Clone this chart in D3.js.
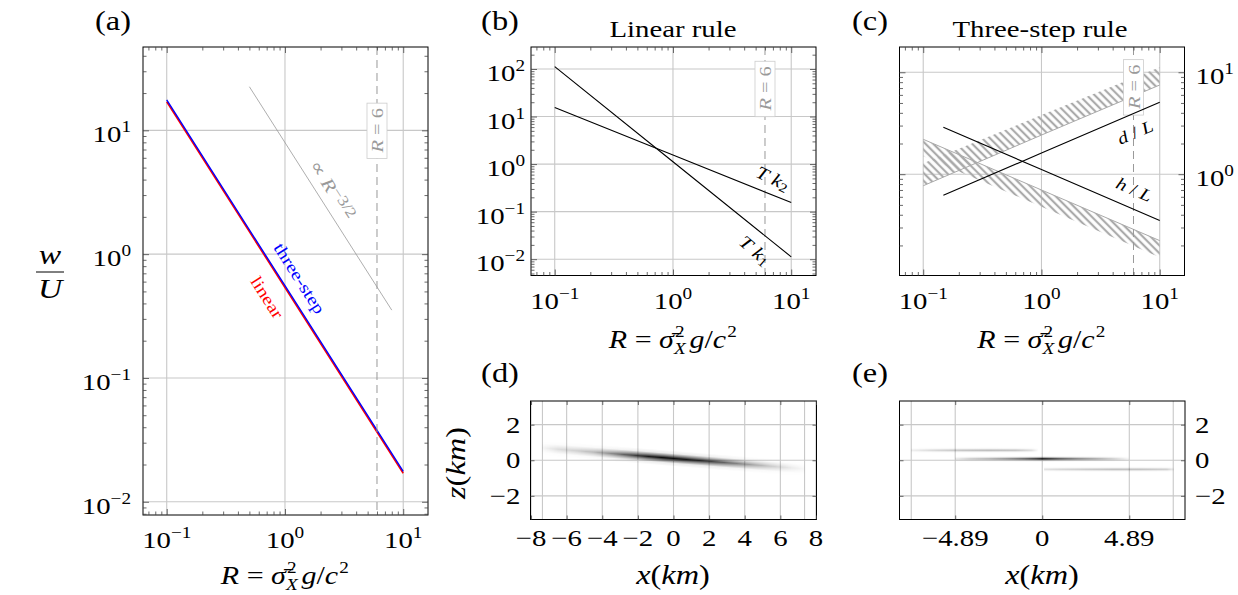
<!DOCTYPE html>
<html><head><meta charset="utf-8">
<script src="https://cdn.jsdelivr.net/npm/d3@7"></script>
<style>
body{margin:0;background:#fff;}
</style></head><body>
<script>
// ---------------- data ----------------
// (a) vertical velocity w/U vs R
const rA = [0.1, 1, 10];
const wLinear = [17.0, 0.537, 0.0170];
const wThreeStep = [17.6, 0.556, 0.0176];
const rRef = [0.5, 8];
const wRef = [22.5, 0.353];
// (b) linear rule
const rB = [0.1, 1, 10];
const tk1 = [112, 1.12, 0.0112];
const tk2 = [15.5, 1.55, 0.155];
// (c) three-step rule
const rC = [0.1, 1, 10];
const bandUpperLo = [0.77, 2.42, 7.5];
const bandUpperHi = [1.28, 3.8, 11.2];
const bandLowerHi = [2.2, 0.70, 0.223];
const bandLowerLo = [1.5, 0.48, 0.153];
const rLine = [0.148, 1, 10];
const dOverL = [0.62, 1.61, 5.08];
const hOverL = [2.89, 1.11, 0.351];
const rMark = 6;
// tick values / labels
const logXTicks = [0.1, 1, 10];
const logXLabels = ["\u22121", "0", "1"];
const aYTicks = [0.01, 0.1, 1, 10];
const aYLabels = ["\u22122", "\u22121", "0", "1"];
const bYTicks = [0.01, 0.1, 1, 10, 100];
const bYLabels = ["\u22122", "\u22121", "0", "1", "2"];
const cYTicks = [1, 10];
const cYLabels = ["0", "1"];
const dXTicks = [-8, -6, -4, -2, 0, 2, 4, 6, 8];
const dXLabels = ["\u22128", "\u22126", "\u22124", "\u22122", "0", "2", "4", "6", "8"];
const eXTicks = [-4.89, 0, 4.89];
const eXLabels = ["\u22124.89", "0", "4.89"];
const zTicks = [-2, 0, 2];
const zLabels = ["\u22122", "0", "2"];
const edgeGrid = [-7.36, 7.36];
// (d) streak: intensity along x, centre z at the two ends
const dStreakX = [-7.4, -6.5, -5.5, -4.5, -3.5, -2.5, -1.5, -0.5, 0.5, 1.5, 2.5, 3.5, 4.5, 5.5, 6.5, 7.4];
const dStreakI = [0.03, 0.13, 0.18, 0.27, 0.45, 0.68, 0.88, 0.97, 0.93, 0.83, 0.68, 0.5, 0.34, 0.2, 0.09, 0.02];
const dStreakZ = [0.69, -0.49];
// (e) three streaks
const e1X = [-7.4, -6, -4.5, -3, -1.5, -0.6, -0.2];
const e1I = [0.06, 0.17, 0.25, 0.28, 0.25, 0.14, 0.0];
const e1Z = [0.56, 0.56];
const e2X = [-4.9, -4, -3, -2, -1, -0.3, 0, 0.3, 1, 2, 3, 4, 4.9];
const e2I = [0.08, 0.22, 0.32, 0.47, 0.67, 0.87, 1.0, 0.92, 0.72, 0.52, 0.37, 0.2, 0.03];
const e2Z = [0.08, 0.08];
const e3X = [0.1, 1, 2.5, 4, 5.5, 7, 7.4];
const e3I = [0.12, 0.17, 0.22, 0.26, 0.25, 0.2, 0.06];
const e3Z = [-0.51, -0.51];
// label anchor points (data coords)
const labelThreeStepAt = [1.34, 0.641];
const labelLinearAt = [0.711, 0.45];
const labelRefAt = [2.52, 3.29];
const labelTk2At = [7.0, 0.507];
const labelTk1At = [4.94, 0.0155];
const labelDLAt = [6.17, 2.6];
const labelHLAt = [6.1, 0.716];
const markLabelA = 10, markLabelB = 39, markLabelC = 7.2;

// ---------------- setup ----------------
const SX = 1.2;
const FONT = "Liberation Serif";
const svg = d3.select("body").append("svg").attr("width", 1238).attr("height", 595)
  .attr("font-family", FONT).style("font-family", "'Liberation Serif', 'DejaVu Serif', serif");
const defs = svg.append("defs");

const PA = {x0:143, x1:428, y0:47, y1:515};
const PB = {x0:531, x1:816, y0:47, y1:275.5};
const PC = {x0:899.5, x1:1184.5, y0:47, y1:275.5};
const PD = {x0:530.5, x1:816.5, y0:401, y1:519.5};
const PE = {x0:899.5, x1:1185, y0:401, y1:519.5};

const rDomain = [0.063, 16.2];
const xA = d3.scaleLog().domain(rDomain).range([PA.x0, PA.x1]);
const yA = d3.scaleLog().domain([0.00782, 47.1]).range([PA.y1, PA.y0]);
const xB = d3.scaleLog().domain(rDomain).range([PB.x0, PB.x1]);
const yB = d3.scaleLog().domain([0.00454, 290]).range([PB.y1, PB.y0]);
const xC = d3.scaleLog().domain(rDomain).range([PC.x0, PC.x1]);
const yC = d3.scaleLog().domain([0.1014, 17.7]).range([PC.y1, PC.y0]);
const xD = d3.scaleLinear().domain([-8.03, 8.03]).range([PD.x0, PD.x1]);
const yD = d3.scaleLinear().domain([-3.33, 3.33]).range([PD.y1, PD.y0]);
const xE = d3.scaleLinear().domain([-8.02, 8.02]).range([PE.x0, PE.x1]);
const yE = d3.scaleLinear().domain([-3.33, 3.33]).range([PE.y1, PE.y0]);

// ---------------- helpers ----------------
function label(g, x, y, parts, o = {}) {
  const t = g.append("text")
    .attr("transform", `translate(${x},${y}) rotate(${o.rot || 0}) scale(${SX},1)`)
    .attr("text-anchor", o.anchor || "middle")
    .attr("font-family", FONT)
    .attr("font-size", o.size || 22)
    .attr("fill", o.color || "#000");
  if (o.mid) t.attr("dominant-baseline", "central");
  parts.forEach(p => {
    const s = t.append("tspan").text(p.t);
    if (p.i) s.attr("font-style", "italic");
    if (p.dy !== undefined) s.attr("dy", p.dy);
    if (p.dx !== undefined) s.attr("dx", p.dx);
    if (p.s) s.attr("font-size", p.s);
  });
  return t;
}
function pow(exp) { return [{t: "10"}, {t: exp, s: 16, dy: -10}]; }

function grid(g, P, xs, ys, xv, yv, col) {
  g.append("g").selectAll("line").data(xv).join("line")
    .attr("x1", d => xs(d)).attr("x2", d => xs(d)).attr("y1", P.y0).attr("y2", P.y1)
    .attr("stroke", col || "#c8c8c8").attr("stroke-width", 1.1);
  g.append("g").selectAll("line").data(yv).join("line")
    .attr("y1", d => ys(d)).attr("y2", d => ys(d)).attr("x1", P.x0).attr("x2", P.x1)
    .attr("stroke", col || "#c8c8c8").attr("stroke-width", 1.1);
}
function tickSet(g, P, xs, ys, xv, yv, size) {
  const mk = (axis, tr) => {
    const s = g.append("g").attr("transform", tr).call(axis);
    s.select(".domain").remove();
    s.selectAll("line").attr("stroke", "#444").attr("stroke-width", 0.8);
    s.selectAll("text").remove();
  };
  mk(d3.axisBottom(xs).tickValues(xv).tickSize(-size).tickFormat(""), `translate(0,${P.y1})`);
  mk(d3.axisTop(xs).tickValues(xv).tickSize(-size).tickFormat(""), `translate(0,${P.y0})`);
  mk(d3.axisLeft(ys).tickValues(yv).tickSize(-size).tickFormat(""), `translate(${P.x0},0)`);
  mk(d3.axisRight(ys).tickValues(yv).tickSize(-size).tickFormat(""), `translate(${P.x1},0)`);
}
function minorLog(s) {
  const [a, b] = s.domain();
  return s.ticks().filter(v => v > a && v < b && Math.abs(Math.log10(v) - Math.round(Math.log10(v))) > 1e-6);
}
function frame(g, P) {
  g.append("rect").attr("x", P.x0).attr("y", P.y0).attr("width", P.x1 - P.x0).attr("height", P.y1 - P.y0)
    .attr("fill", "none").attr("stroke", "#000").attr("stroke-width", 1);
}
function markLine(g, P, xs, ys, labelVal) {
  g.append("line").attr("x1", xs(rMark)).attr("x2", xs(rMark)).attr("y1", P.y0).attr("y2", P.y1)
    .attr("stroke", "#999").attr("stroke-width", 1).attr("stroke-dasharray", "8,5");
  const gg = g.append("g").attr("transform", `translate(${xs(rMark)},${ys(labelVal)}) rotate(-90)`);
  const r = gg.append("rect");
  const t = gg.append("text").attr("text-anchor", "middle").attr("dominant-baseline", "central")
    .attr("font-family", FONT)
    .attr("transform", `scale(${SX},1)`).attr("font-size", 17).attr("fill", "#9a9a9a");
  t.append("tspan").attr("font-style", "italic").text("R");
  t.append("tspan").text(" = 6");
  const bb = t.node().getBBox();
  r.attr("x", bb.x * SX - 5).attr("y", bb.y - 0.5).attr("width", bb.width * SX + 10).attr("height", bb.height + 1)
    .attr("fill", "#fff").attr("stroke", "#ccc").attr("stroke-width", 0.8);
}
function lineOf(xs, ys) { return d3.line().x(d => xs(d[0])).y(d => ys(d[1])); }
function angleOf(xs, ys, rr, vv) {
  const n = rr.length - 1;
  return Math.atan2(ys(vv[n]) - ys(vv[0]), xs(rr[n]) - xs(rr[0])) * 180 / Math.PI;
}
// x-axis title R = sigma_X^2 g / c^2 (super/subscript as separate texts so they do not overlap)
function rTitle(g, cx, y) {
  const size = 25;
  const t = g.append("g").attr("transform", `translate(${cx},${y}) scale(${SX},1)`);
  const part = (x, dy, txt, it, sz) => t.append("text").attr("x", x).attr("y", dy)
    .attr("font-family", FONT).attr("font-size", sz || size).attr("font-style", it ? "italic" : "normal").text(txt);
  const a = part(0, 0, "R = \u03c3\u0304", 0);
  a.text(null);
  a.append("tspan").attr("font-style", "italic").text("R");
  a.append("tspan").text(" = ");
  a.append("tspan").attr("font-style", "italic").text("\u03c3\u0304");
  const w1 = a.node().getComputedTextLength();
  part(w1 + 1, -11, "2", 0, 16);
  part(w1 + 0, 6, "X", 1, 16);
  const b = part(w1 + 13, 0, "", 0);
  b.append("tspan").attr("font-style", "italic").text("g");
  b.append("tspan").text("/");
  b.append("tspan").attr("font-style", "italic").text("c");
  const w2 = b.node().getComputedTextLength();
  part(w1 + 13 + w2 + 1, -11, "2", 0, 16);
  const total = w1 + 13 + w2 + 10;
  t.selectAll("text").attr("x", function () { return +d3.select(this).attr("x") - total / 2; });
}

// vertical profile mask for streaks
const vprof = defs.append("linearGradient").attr("id", "vprof").attr("x1", 0).attr("y1", 0).attr("x2", 0).attr("y2", 1);
[[0, 0], [0.2, 0.08], [0.35, 0.5], [0.5, 1], [0.65, 0.5], [0.8, 0.08], [1, 0]].forEach(s =>
  vprof.append("stop").attr("offset", s[0]).attr("stop-color", "#fff").attr("stop-opacity", s[1]));
defs.append("mask").attr("id", "vmask").attr("maskContentUnits", "objectBoundingBox")
  .attr("maskUnits", "objectBoundingBox").attr("x", 0).attr("y", 0).attr("width", 1).attr("height", 1)
  .append("rect").attr("width", 1).attr("height", 1).attr("fill", "url(#vprof)");

function streak(g, xs, ys, xv, iv, zz, h, id) {
  const x0 = xv[0], x1 = xv[xv.length - 1];
  const grad = defs.append("linearGradient").attr("id", id).attr("x1", 0).attr("x2", 1).attr("y1", 0).attr("y2", 0);
  grad.selectAll("stop").data(xv.map((x, i) => ({x, v: iv[i]}))).join("stop")
    .attr("offset", d => (d.x - x0) / (x1 - x0)).attr("stop-color", "#000").attr("stop-opacity", d => d.v);
  const px0 = xs(x0), px1 = xs(x1);
  const ang = Math.atan((ys(zz[1]) - ys(zz[0])) / (px1 - px0)) * 180 / Math.PI;
  g.append("rect").attr("x", px0).attr("y", ys(zz[0] + h)).attr("width", px1 - px0)
    .attr("height", ys(zz[0] - h) - ys(zz[0] + h))
    .attr("fill", `url(#${id})`).attr("mask", "url(#vmask)")
    .attr("transform", `translate(${px0},0) skewY(${ang}) translate(${-px0},0)`);
}

// hatch pattern
const pat = defs.append("pattern").attr("id", "hatch").attr("patternUnits", "userSpaceOnUse")
  .attr("width", 5.5).attr("height", 5.5).attr("patternTransform", "rotate(-45)");
pat.append("line").attr("x1", 2.75).attr("x2", 2.75).attr("y1", -1).attr("y2", 7)
  .attr("stroke", "#aaaaaa").attr("stroke-width", 2.2);

// ---------------- panel (a) ----------------
{
  const g = svg.append("g");
  grid(g, PA, xA, yA, logXTicks, aYTicks);
  g.append("path").datum(rRef.map((r, i) => [r, wRef[i]])).attr("d", lineOf(xA, yA))
    .attr("fill", "none").attr("stroke", "#999").attr("stroke-width", 0.8);
  g.append("path").datum(rA.map((r, i) => [r, wLinear[i]])).attr("d", lineOf(xA, yA))
    .attr("fill", "none").attr("stroke", "#ff0000").attr("stroke-width", 1.6);
  g.append("path").datum(rA.map((r, i) => [r, wThreeStep[i]])).attr("d", lineOf(xA, yA))
    .attr("fill", "none").attr("stroke", "#0000ff").attr("stroke-width", 1.4);
  markLine(g, PA, xA, yA, markLabelA);
  const ang = angleOf(xA, yA, rA, wLinear);
  label(g, xA(labelThreeStepAt[0]), yA(labelThreeStepAt[1]), [{t: "three-step"}], {rot: ang, size: 17, color: "#0000ff", mid: 1});
  label(g, xA(labelLinearAt[0]), yA(labelLinearAt[1]), [{t: "linear"}], {rot: ang, size: 17, color: "#ff0000", mid: 1});
  label(g, xA(labelRefAt[0]), yA(labelRefAt[1]), [{t: "\u221d "}, {t: "R", i: 1}, {t: "\u22123/2", s: 15, dy: -4}],
    {rot: angleOf(xA, yA, rRef, wRef), size: 18, color: "#999", mid: 1});
  frame(g, PA);
  tickSet(g, PA, xA, yA, logXTicks, aYTicks, 6);
  tickSet(g, PA, xA, yA, minorLog(xA), minorLog(yA), 3.5);
  logXTicks.forEach((v, i) => label(g, xA(v), PA.y1 + 33, pow(logXLabels[i]), {size: 24}));
  aYTicks.forEach((v, i) => label(g, PA.x0 - 12, yA(v) + 12, pow(aYLabels[i]), {size: 24, anchor: "end"}));
  rTitle(g, (PA.x0 + PA.x1) / 2, 584);
  label(g, 113, 30, [{t: "(a)"}], {size: 27});
  // w/U
  label(g, 50, 264, [{t: "w", i: 1}], {size: 28});
  g.append("line").attr("x1", 36).attr("x2", 64).attr("y1", 272).attr("y2", 272).attr("stroke", "#000").attr("stroke-width", 1);
  label(g, 50, 298, [{t: "U", i: 1}], {size: 28});
}

// ---------------- panel (b) ----------------
{
  const g = svg.append("g");
  grid(g, PB, xB, yB, logXTicks, bYTicks);
  markLine(g, PB, xB, yB, markLabelB);
  g.append("path").datum(rB.map((r, i) => [r, tk1[i]])).attr("d", lineOf(xB, yB))
    .attr("fill", "none").attr("stroke", "#000").attr("stroke-width", 1.1);
  g.append("path").datum(rB.map((r, i) => [r, tk2[i]])).attr("d", lineOf(xB, yB))
    .attr("fill", "none").attr("stroke", "#000").attr("stroke-width", 1.1);
  label(g, xB(labelTk2At[0]), yB(labelTk2At[1]), [{t: "T", i: 1}, {t: " k", i: 1}, {t: "2", s: 13, dy: 4}],
    {rot: angleOf(xB, yB, rB, tk2) + 4, size: 18, mid: 1});
  label(g, xB(labelTk1At[0]), yB(labelTk1At[1]), [{t: "T", i: 1}, {t: " k", i: 1}, {t: "1", s: 13, dy: 4}],
    {rot: angleOf(xB, yB, rB, tk1) + 2, size: 18, mid: 1});
  frame(g, PB);
  tickSet(g, PB, xB, yB, logXTicks, bYTicks, 6);
  tickSet(g, PB, xB, yB, minorLog(xB), minorLog(yB), 3.5);
  logXTicks.forEach((v, i) => label(g, xB(v), PB.y1 + 33, pow(logXLabels[i]), {size: 24}));
  bYTicks.forEach((v, i) => label(g, PB.x0 - 6, yB(v) + 12, pow(bYLabels[i]), {size: 24, anchor: "end"}));
  rTitle(g, (PB.x0 + PB.x1) / 2, PB.y1 + 72);
  label(g, 500, 30, [{t: "(b)"}], {size: 27});
  label(g, 673, 37, [{t: "Linear rule"}], {size: 24});
}

// ---------------- panel (c) ----------------
{
  const g = svg.append("g");
  grid(g, PC, xC, yC, logXTicks, cYTicks);
  const area = (lo, hi) => d3.area().x((d, i) => xC(rC[i])).y0((d, i) => yC(lo[i])).y1((d, i) => yC(hi[i]))(rC);
  g.append("path").attr("d", area(bandUpperLo, bandUpperHi)).attr("fill", "url(#hatch)");
  g.append("path").attr("d", area(bandLowerLo, bandLowerHi)).attr("fill", "url(#hatch)");
  g.append("path").datum(rC.map((r, i) => [r, bandUpperLo[i]])).attr("d", lineOf(xC, yC))
    .attr("fill", "none").attr("stroke", "#aaaaaa").attr("stroke-width", 1);
  g.append("path").datum(rC.map((r, i) => [r, bandLowerHi[i]])).attr("d", lineOf(xC, yC))
    .attr("fill", "none").attr("stroke", "#aaaaaa").attr("stroke-width", 1);
  markLine(g, PC, xC, yC, markLabelC);
  g.append("path").datum(rLine.map((r, i) => [r, dOverL[i]])).attr("d", lineOf(xC, yC))
    .attr("fill", "none").attr("stroke", "#000").attr("stroke-width", 1.1);
  g.append("path").datum(rLine.map((r, i) => [r, hOverL[i]])).attr("d", lineOf(xC, yC))
    .attr("fill", "none").attr("stroke", "#000").attr("stroke-width", 1.1);
  label(g, xC(labelDLAt[0]), yC(labelDLAt[1]), [{t: "d", i: 1}, {t: " / "}, {t: "L", i: 1}],
    {rot: angleOf(xC, yC, rLine, dOverL), size: 17, mid: 1});
  label(g, xC(labelHLAt[0]), yC(labelHLAt[1]), [{t: "h", i: 1}, {t: " / "}, {t: "L", i: 1}],
    {rot: angleOf(xC, yC, rLine, hOverL), size: 17, mid: 1});
  frame(g, PC);
  tickSet(g, PC, xC, yC, logXTicks, cYTicks, 6);
  tickSet(g, PC, xC, yC, minorLog(xC), minorLog(yC), 3.5);
  logXTicks.forEach((v, i) => label(g, xC(v), PC.y1 + 33, pow(logXLabels[i]), {size: 24}));
  cYTicks.forEach((v, i) => label(g, PC.x1 + 11, yC(v) + 12, pow(cYLabels[i]), {size: 24, anchor: "start"}));
  rTitle(g, (PC.x0 + PC.x1) / 2, PC.y1 + 72);
  label(g, 870, 30, [{t: "(c)"}], {size: 27});
  label(g, 1040, 37, [{t: "Three-step rule"}], {size: 24});
}

// ---------------- panel (d) ----------------
{
  const g = svg.append("g");
  grid(g, PD, xD, yD, dXTicks.concat(edgeGrid), zTicks);
  streak(g, xD, yD, dStreakX, dStreakI, dStreakZ, 0.45, "gd");
  frame(g, PD);
  tickSet(g, PD, xD, yD, dXTicks, zTicks, 4);
  dXTicks.forEach((v, i) => label(g, xD(v), 546, [{t: dXLabels[i]}], {size: 24}));
  zTicks.forEach((v, i) => label(g, PD.x0 - 10, yD(v) + 8, [{t: zLabels[i]}], {size: 24, anchor: "end"}));
  label(g, 673, 584, [{t: "x", i: 1}, {t: "("}, {t: "km", i: 1}, {t: ")"}], {size: 27});
  label(g, 455, 463, [{t: "z", i: 1}, {t: "("}, {t: "km", i: 1}, {t: ")"}], {size: 27, rot: -90, mid: 1});
  label(g, 500, 382, [{t: "(d)"}], {size: 27});
}

// ---------------- panel (e) ----------------
{
  const g = svg.append("g");
  grid(g, PE, xE, yE, eXTicks.concat(edgeGrid), zTicks);
  streak(g, xE, yE, e1X, e1I, e1Z, 0.18, "ge1");
  streak(g, xE, yE, e2X, e2I, e2Z, 0.18, "ge2");
  streak(g, xE, yE, e3X, e3I, e3Z, 0.18, "ge3");
  frame(g, PE);
  tickSet(g, PE, xE, yE, eXTicks, zTicks, 4);
  eXTicks.forEach((v, i) => label(g, xE(v), 546, [{t: eXLabels[i]}], {size: 24}));
  zTicks.forEach((v, i) => label(g, PE.x1 + 10, yE(v) + 8, [{t: zLabels[i]}], {size: 24, anchor: "start"}));
  label(g, 1042, 584, [{t: "x", i: 1}, {t: "("}, {t: "km", i: 1}, {t: ")"}], {size: 27});
  label(g, 870, 382, [{t: "(e)"}], {size: 27});
}
</script>
</body></html>
